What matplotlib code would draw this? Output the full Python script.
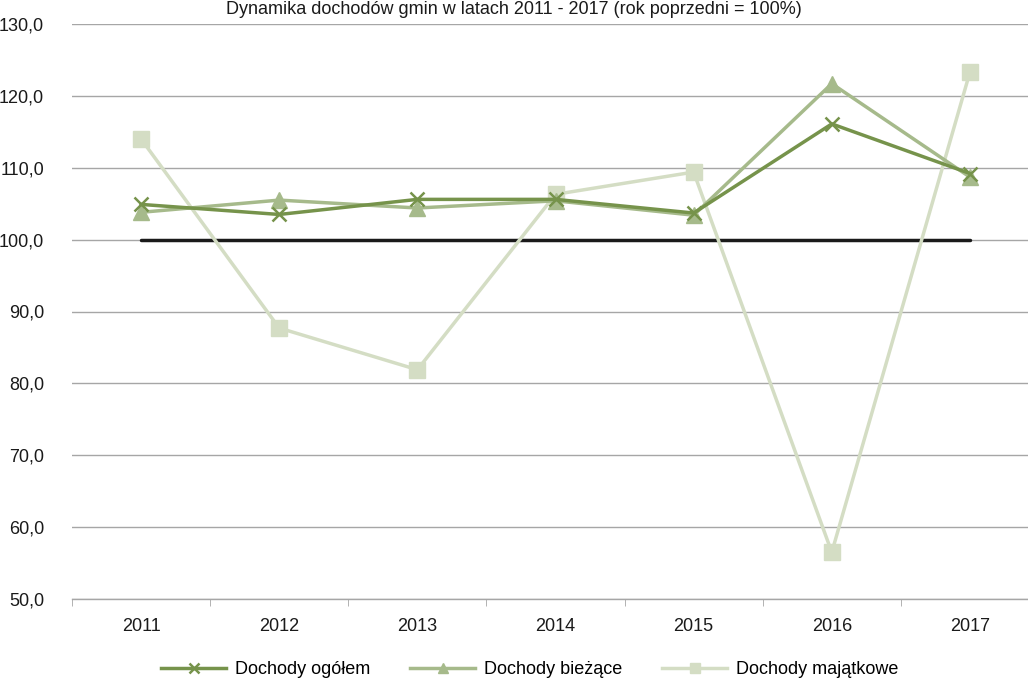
import matplotlib
matplotlib.use("Agg")
import matplotlib.pyplot as plt
from matplotlib import font_manager

years = ["2011", "2012", "2013", "2014", "2015", "2016", "2017"]
ogolem = [104.9, 103.5, 105.6, 105.6, 103.7, 116.1, 109.2]
biezace = [103.8, 105.5, 104.4, 105.4, 103.4, 121.7, 108.7]
majatkowe = [114.0, 87.7, 81.9, 106.3, 109.4, 56.5, 123.3]
reference = [100.0] * 7
yticks = [50, 60, 70, 80, 90, 100, 110, 120, 130]
ytick_labels = ["50,0", "60,0", "70,0", "80,0", "90,0", "100,0", "110,0", "120,0", "130,0"]
title = "Dynamika dochodów gmin w latach 2011 - 2017 (rok poprzedni = 100%)"
labels = ["Dochody ogółem", "Dochody bieżące", "Dochody majątkowe"]

names = {f.name for f in font_manager.fontManager.ttflist}
fam = "Liberation Sans Narrow" if "Liberation Sans Narrow" in names else "Liberation Sans"
plt.rcParams["font.family"] = [fam, "DejaVu Sans"]
fs = 13 if fam == "Liberation Sans" else 14

fig = plt.figure(figsize=(10.28, 6.83), dpi=100)
ax = fig.add_axes([72 / 1028, 1 - 599 / 683, 967 / 1028, 575 / 683])

x = list(range(len(years)))
ax.set_xlim(-0.5, len(years) - 0.5)
ax.set_ylim(50, 130)

for y in yticks:
    ax.axhline(y, color="#a6a6a6", lw=1.0, zorder=0)

c1, c2, c3 = "#76934b", "#a6ba8b", "#d4ddc4"
ax.plot(x, majatkowe, color=c3, lw=2.5, marker="s", ms=11, mec=c3, mfc=c3, zorder=3, label=labels[2])
ax.plot(x, biezace, color=c2, lw=2.5, marker="^", ms=11, mec=c2, mfc=c2, zorder=4, label=labels[1])
ax.plot(x, ogolem, color=c1, lw=2.5, marker="x", ms=10, mew=1.8, mec=c1, zorder=5, label=labels[0])
ax.plot(x, reference, color="#1a1a1a", lw=2.5, zorder=2, solid_capstyle="round")

for s in ["top", "right", "left"]:
    ax.spines[s].set_visible(False)
ax.spines["bottom"].set_color("#a6a6a6")
ax.spines["bottom"].set_linewidth(1.0)

ax.set_yticks(yticks)
ax.set_yticklabels(ytick_labels, fontsize=fs, color="#1a1a1a")
ax.tick_params(axis="y", length=0, pad=20)
ax.set_xticks(x)
ax.set_xticklabels(years, fontsize=fs, color="#1a1a1a")
ax.set_xticks([i - 0.5 for i in range(len(years) + 1)], minor=True)
ax.tick_params(axis="x", which="major", length=0, pad=14)
ax.tick_params(axis="x", which="minor", length=5, color="#a6a6a6")

fig.text(0.5, 1 - 1 / 683, title, ha="center", va="top", fontsize=fs, color="#1a1a1a")

h, l = ax.get_legend_handles_labels()
order = [2, 1, 0]
leg = fig.legend([h[i] for i in order], [l[i] for i in order], loc="center",
                 bbox_to_anchor=(530 / 1028, 1 - 670 / 683), ncol=3, frameon=False,
                 fontsize=fs, handlelength=3.6, handletextpad=0.5, columnspacing=2.2,
                 markerscale=0.7)

fig.savefig("out.png", dpi=100)
